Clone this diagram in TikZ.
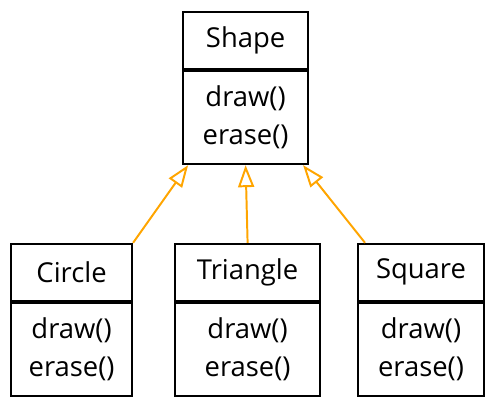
\documentclass[tikz,border=0pt]{standalone}
\usepackage{fontspec}
\setmainfont{Open Sans}
\usetikzlibrary{arrows.meta,positioning}
\definecolor{umlorange}{RGB}{255,165,0}
\tikzset{
  classhead/.style={draw, line width=1.4pt, minimum width=#1, minimum height=1.42cm,
                    inner sep=0pt, font=\fontsize{19.5}{24}\selectfont},
  classbody/.style={draw, line width=1.4pt, minimum width=#1, minimum height=2.33cm,
                    inner sep=0pt, align=center, font=\fontsize{19.5}{27}\selectfont},
  inherit/.style={draw=umlorange, line width=1.4pt,
                  -{Triangle[length=0.55cm, width=0.4cm, fill=white]}},
}
\begin{document}
\begin{tikzpicture}
\useasboundingbox (0,0) rectangle (12.325,10.225);

% Base class
\node[classhead=3.125cm] (shape) at (6.14,9.21) {Shape};
\node[classbody=3.125cm, below=0pt of shape] (shapeops) {draw()\\erase()};

% Derived classes
\node[classhead=3.025cm] (circle) at (1.79,3.42) {Circle};
\node[classbody=3.025cm, below=0pt of circle] (circleops) {draw()\\erase()};

\node[classhead=3.625cm] (triangle) at (6.19,3.42) {Triangle};
\node[classbody=3.625cm, below=0pt of triangle] (triangleops) {draw()\\erase()};

\node[classhead=3.15cm] (square) at (10.525,3.42) {Square};
\node[classbody=3.15cm, below=0pt of square] (squareops) {draw()\\erase()};

% Generalisation arrows
\draw[inherit] (circle.north east) -- ([xshift=0.15cm]shapeops.south west);
\draw[inherit] (triangle.north) -- (shapeops.south);
\draw[inherit] ([xshift=0.2cm]square.north west) -- ([xshift=-0.15cm]shapeops.south east);

\end{tikzpicture}
\end{document}
